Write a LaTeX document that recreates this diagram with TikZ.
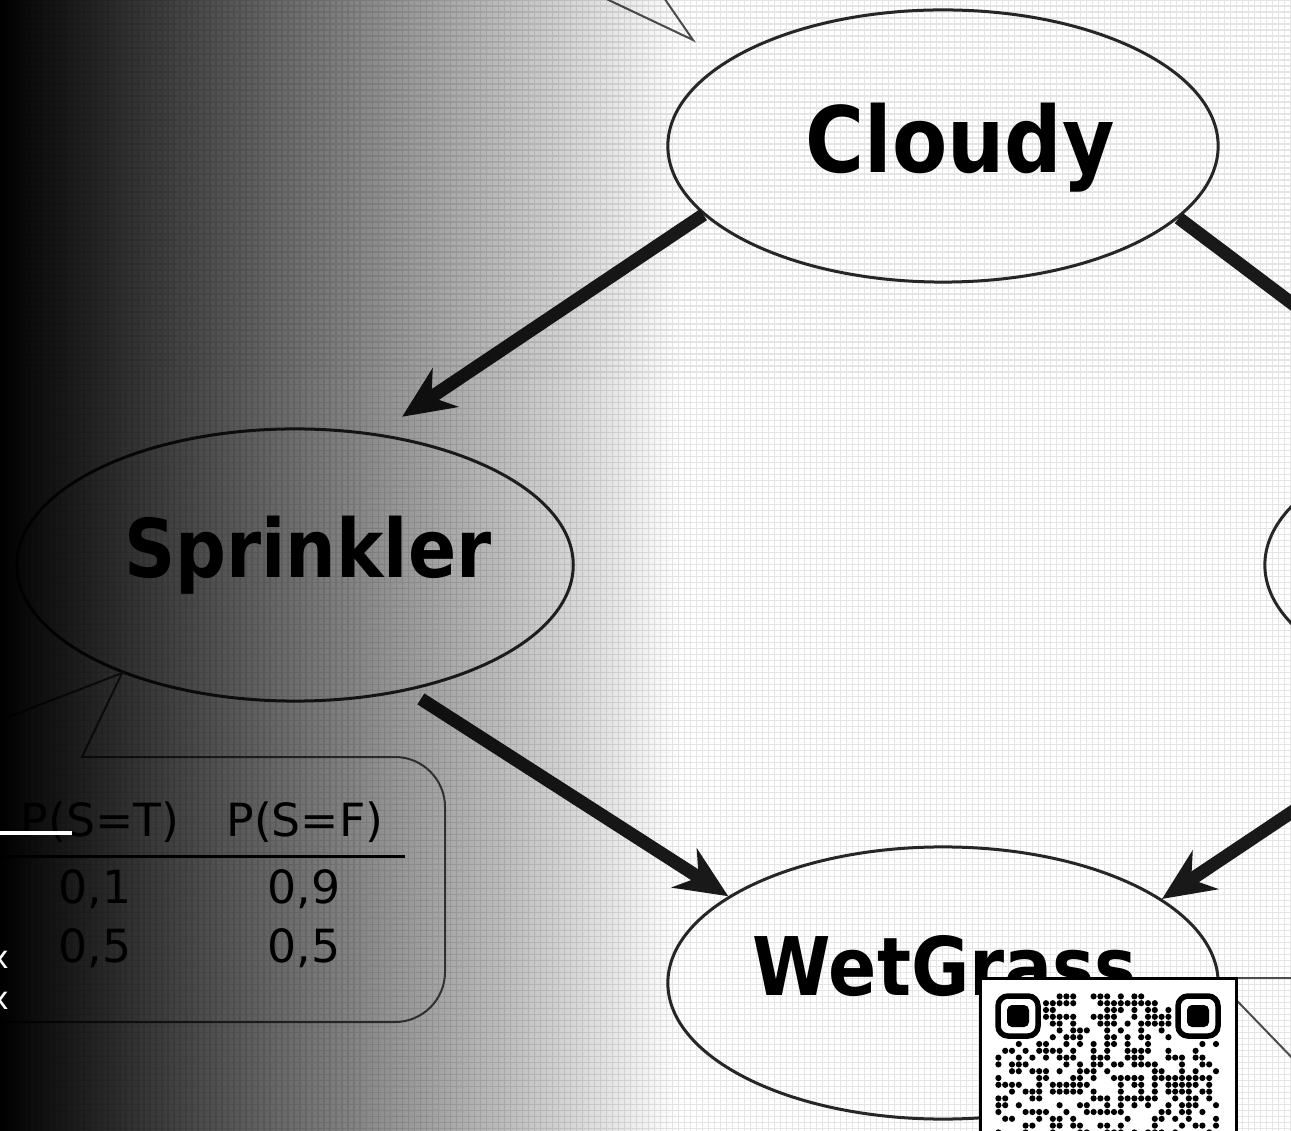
\documentclass[tikz,border=0pt]{standalone}
\usepackage{fontspec}
\setmainfont{DejaVu Sans}
\usepackage{tikz}
\usetikzlibrary{shapes,arrows.meta,positioning,fadings}
\tikzstyle{event} = [draw=black!85,line width=0.03cm,ellipse,inner sep=0,minimum width=5.5cm,minimum height=2.72cm,font=\bfseries\fontsize{23}{23}\selectfont,text height=9pt,text depth=2pt]
\tikzstyle{cause} = [-{Stealth[length=0.52cm,width=0.46cm]},line width=0.13cm,black!90]
\tikzstyle{callout} = [draw=black!70,line width=0.02cm]
\tikzstyle{prob} = [font=\fontsize{13}{13}\selectfont,inner sep=0]
\tikzstyle{edgemark} = [text=white,font=\fontsize{9}{9}\selectfont,inner sep=0]
\def \qm {6.8}
\newcommand\squeeze[2]{\hspace*{#1}\scalebox{0.88}[1]{#2}}

\begin{document}
\begin{tikzpicture}[x=0.01cm,y=-0.01cm]
      \useasboundingbox (0,0) rectangle (1291,1131);
      \fill[white] (0,0) rectangle (1291,1131);
      \draw[black!10,line width=0.014cm,step=0.06cm] (0,0) grid (1291,1131);
      % the network
      \node[event,font=\bfseries\fontsize{26}{26}\selectfont,text height=17pt] (cloudy) at (943,146) {\squeeze{0.34cm}{Cloudy}};
      \node[event] (sprinkler) at (295,565) {\squeeze{0.26cm}{Sprinkler}};
      \node[event] (wetgrass) at (943,983) {\squeeze{0.04cm}{WetGrass}};
      \node[event] (rain) at (1540,565) {};
      \draw[cause,shorten >=0.3cm] (cloudy.196) -- (sprinkler.58);
      \draw[cause,shorten <=0.15cm] (sprinkler.-48) -- (wetgrass.158);
      \draw[cause] (rain.240) -- (wetgrass.21);
      \draw[cause] (cloudy.-17) -- (rain.120);
      % callouts
      \coordinate (cloudytip) at (693,40);
      \draw[callout] (598,-5) -- (cloudytip) -- (662,-5);
      \coordinate (wettip) at (1215,978);
      \draw[callout] (1300,978) -- (wettip) -- (1300,1066);
      \draw[callout] (-5,722) -- (sprinkler.212) -- (82,757) [rounded corners=0.5cm] -- (445,757) -- (445,1022) -- (-5,1022);
      % table of the sprinkler
      \node[prob] (headT) at (100,822) {P(S=T)};
      \node[prob] (headF) at (305,822) {P(S=F)};
      \draw[line width=0.03cm] (0,856) -- (405,856);
      \node[prob] (pT1) at (95,889) {0,1};
      \node[prob] (pF1) at (304,889) {0,9};
      \node[prob] (pT2) at (95,948) {0,5};
      \node[prob] (pF2) at (304,948) {0,5};
      % shade
      \fill[black,path fading=east] (0,0) rectangle (680,1131);
      % qr code
      \draw[fill=white,line width=0.03cm] (980,978) rectangle (1236,1140);
      \draw[line width=0.055cm,rounded corners=0.1cm] (998,996) rectangle (1038,1036);
      \fill[rounded corners=0.05cm] (1007,1005) rectangle (1029,1027);
      \draw[line width=0.055cm,rounded corners=0.1cm] (1178,996) rectangle (1218,1036);
      \fill[rounded corners=0.05cm] (1187,1005) rectangle (1209,1027);
      \pgfmathsetseed{4711}
      \foreach \r in {0,...,20}{
        \foreach \c in {0,...,32}{
          \pgfmathrandominteger{\bit}{0}{1}
          \ifnum\r<7 \ifnum\c<7 \def\bit{0}\fi \ifnum\c>25 \def\bit{0}\fi \fi
          \ifnum\bit=1 \fill (995+\c*\qm+3.4,993+\r*\qm+3.4) circle (0.031cm); \fi
        }
      }
      % white marks on the dark side
      \draw[white,line width=0.04cm] (0,833) -- (72,833);
      \node[edgemark] (marka) at (0,960) {x};
      \node[edgemark] (markb) at (0,1001) {x};
\end{tikzpicture}
\end{document}
